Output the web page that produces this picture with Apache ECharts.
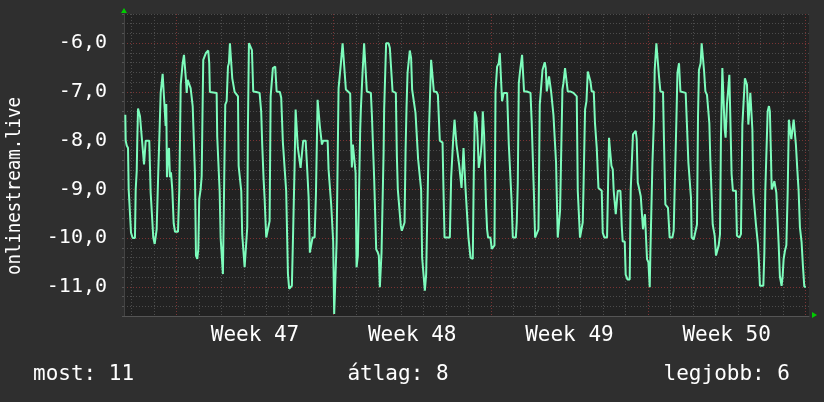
<!DOCTYPE html>
<html><head><meta charset="utf-8">
<script src="https://cdn.jsdelivr.net/npm/echarts@6/dist/echarts.min.js"></script>
<style>html,body{margin:0;padding:0;background:#2f2f2f;}#c{width:824px;height:402px;}</style>
</head><body><div id="c"></div>
<script>
// Hours since the start of the graph window
const hours = [1.4,1.8,2.9,4.3,5.0,6.1,7.5,9.3,11.7,12.5,13.6,14.2,15.0,16.0,17.1,18.2,19.2,20.6,21.4,22.1,23.2,24.9,27.0,28.5,29.6,31.3,32.8,33.9,34.9,36.6,37.7,39.2,40.6,41.3,42.4,43.0,43.8,44.5,45.2,45.9,47.0,48.1,49.1,50.2,51.6,53.1,54.5,57.7,59.1,60.6,61.6,62.7,64.1,65.5,66.2,67.0,68.0,69.4,71.2,72.3,73.4,74.8,75.8,76.9,78.3,79.4,80.4,81.9,83.0,84.1,84.7,86.5,87.6,90.0,91.1,91.8,93.7,99.0,99.6,101.1,102.2,103.3,104.7,105.7,107.1,108.2,109.7,111.1,112.1,113.2,114.6,115.7,117.2,118.2,119.9,121.8,122.5,123.9,125.3,126.3,127.8,128.9,130.3,131.7,132.4,133.5,135.3,136.7,138.1,141.3,144.9,146.6,147.7,149.2,150.3,151.3,152.0,153.8,155.6,156.7,157.7,159.1,161.6,163.1,166.6,168.0,169.8,171.6,173.3,175.2,176.5,179.4,180.8,182.3,183.4,184.8,185.8,187.2,188.7,190.1,191.5,194.1,195.4,197.3,198.6,200.0,201.5,203.7,205.1,206.9,207.9,209.3,210.4,211.5,212.9,217.6,218.6,220.3,221.4,222.5,223.5,224.6,226.4,227.2,228.2,229.3,230.7,231.8,233.6,235.7,237.1,238.9,241.7,242.8,243.5,244.6,246.4,247.5,248.5,249.9,251.3,252.4,253.1,254.9,256.6,258.5,259.5,263.8,264.9,267.3,268.4,269.5,271.3,272.3,273.4,274.5,275.2,276.3,277.4,278.0,279.1,280.1,282.7,284.1,285.5,287.0,290.5,291.6,292.6,294.0,295.8,296.9,298.7,299.8,300.9,301.9,303.0,304.4,305.4,306.8,307.9,309.7,311.5,314.3,316.1,317.5,318.6,320.4,321.5,322.9,323.9,325.7,326.8,328.2,329.3,331.1,334.0,335.4,337.5,340.4,341.4,342.5,348.2,349.6,351.7,353.2,354.6,355.3,357.0,358.1,359.6,360.7,362.1,362.8,363.9,364.9,366.6,368.1,370.3,372.7,373.8,374.9,376.7,377.8,379.1,381.0,382.3,383.4,384.8,385.9,386.9,388.0,389.1,391.6,393.0,395.9,397.0,398.7,400.5,401.6,403.0,404.0,405.8,409.4,411.2,413.0,414.1,415.5,418.7,419.7,420.8,421.9,423.2,424.3,425.4,426.5,427.5,430.4,432.2,434.4,435.7,436.8,437.9,439.3,441.4,442.9,444.3,445.7,447.2,448.2,449.6,450.7,451.8,452.8,454.2,455.3,456.4,457.9,458.9,460.6,461.7,462.8,463.5,464.6,466.0,467.0,468.5,469.6,471.3,473.1,474.2,476.7,480.3,483.8,484.9,486.3,487.3,489.1,490.2,491.0,492.7,494.2,495.6,496.9,498.4,499.8,502.0,503.3,505.2,507.0,508.7,510.5,511.6,513.4,516.2,517.2,518.3,520.1,520.9,522.3,523.3,524.4,525.5,526.5,527.6,530.5,531.9,532.9,535.1,536.1,538.0,540.4,541.5,542.5,543.9,545.7,546.8,547.9,549.0,550.3,552.2,554.0,554.6,555.7,556.7,558.2,558.9,560.4,561.8,562.5,563.9,564.7,566.4,567.1,568.9,570.6,571.7,573.2,576.0,577.0,578.5,581.3,583.1,586.0,587.4,588.8,590.3,591.4,593.1,594.6,596.7,600.2,601.6,603.1,604.5,605.9,606.6,608.8,610.9,612.3,613.4,614.4,616.2,617.3,618.7,619.8,621.3,623.0,623.7,625.5,626.6,627.7,629.1,630.1,631.2,632.6,634.4,635.5,636.9,637.9,639.4,640.8,641.9,642.9,644.3,645.8,646.9,648.3,649.3,650.7,653.9,655.0,657.6,659.3,660.8,662.2,663.5,664.6,665.7,667.2,668.2,669.3,670.4,671.5,672.5,674.2,675.3,676.4,677.4,678.5,679.6,683.2,684.3,685.3,686.7,687.8,689.2,690.2,691.3,692.1,693.5,695.0,696.0,697.1,698.5,699.5,700.9,702.7,703.8,704.9,706.3,707.8,709.2,710.5,712.0,713.1,714.5,715.6,717.0,718.0,719.5,720.9,722.3,724.1,725.5,727.0,728.7];
const values = [-7.47,-8.0,-8.1,-8.15,-9.0,-9.01,-9.89,-10.0,-10.0,-9.0,-8.62,-7.98,-7.34,-7.36,-7.5,-7.51,-7.98,-8.0,-8.49,-8.49,-8.0,-7.97,-8.0,-9.07,-9.07,-9.99,-10.12,-10.12,-9.82,-8.66,-7.98,-7.02,-6.99,-6.63,-6.63,-7.19,-7.2,-7.7,-7.25,-8.75,-8.3,-8.15,-8.75,-8.65,-9.0,-9.7,-9.87,-9.87,-9.0,-6.85,-6.82,-6.41,-6.24,-6.24,-6.75,-7.02,-6.75,-6.75,-6.92,-6.92,-7.29,-7.29,-8.66,-10.36,-10.43,-10.23,-9.2,-9.0,-8.73,-7.16,-6.34,-6.3,-6.2,-6.15,-6.41,-7.0,-7.02,-7.02,-7.91,-7.87,-9.03,-10.0,-10.03,-10.74,-10.74,-7.26,-7.19,-6.48,-6.41,-6.0,-6.0,-6.72,-6.75,-7.0,-7.0,-7.09,-8.52,-8.52,-9.03,-9.92,-9.95,-10.6,-10.6,-9.78,-7.77,-6.0,-6.03,-6.14,-6.99,-7.0,-7.02,-7.4,-8.08,-8.8,-9.2,-9.68,-9.99,-9.99,-9.65,-7.09,-7.06,-6.51,-6.48,-6.99,-7.0,-7.12,-8.04,-8.08,-9.03,-10.74,-11.04,-10.98,-9.82,-8.52,-7.36,-7.36,-8.15,-8.13,-8.56,-8.56,-8.0,-8.0,-8.45,-9.17,-10.3,-10.3,-9.99,-9.99,-9.1,-7.16,-7.19,-7.7,-7.7,-8.08,-8.0,-8.0,-8.59,-8.59,-9.31,-9.31,-10.06,-11.56,-11.56,-10.09,-10.06,-6.92,-6.88,-6.41,-6.0,-6.0,-6.95,-6.99,-7.03,-8.08,-8.55,-8.08,-8.08,-8.66,-10.6,-10.36,-10.36,-7.77,-7.36,-6.61,-6.0,-6.0,-6.99,-7.02,-7.47,-8.76,-8.8,-10.23,-10.3,-10.36,-11.01,-10.98,-10.3,-10.26,-8.25,-7.36,-7.33,-6.0,-6.0,-6.1,-6.14,-6.99,-7.02,-8.32,-9.0,-9.03,-9.75,-9.85,-9.82,-9.68,-8.18,-7.32,-6.61,-6.58,-6.15,-6.3,-6.95,-6.99,-7.43,-8.38,-8.42,-9.0,-10.4,-10.43,-11.08,-10.74,-10.74,-7.91,-7.91,-6.34,-6.34,-6.99,-7.0,-7.06,-8.0,-8.04,-9.0,-9.99,-9.99,-8.76,-8.0,-7.57,-7.57,-8.08,-8.08,-8.49,-8.52,-8.97,-8.97,-8.15,-8.15,-8.97,-9.0,-9.99,-10.4,-10.43,-8.66,-7.4,-7.53,-7.91,-8.56,-8.32,-8.04,-7.4,-7.87,-7.91,-9.34,-9.82,-9.99,-9.99,-10.22,-10.15,-6.99,-6.48,-6.41,-6.2,-6.2,-7.19,-7.02,-7.02,-8.08,-8.12,-9.2,-9.99,-9.99,-9.68,-8.87,-6.82,-6.58,-6.41,-6.24,-6.24,-6.99,-6.99,-6.95,-7.02,-7.64,-7.67,-9.0,-9.99,-9.99,-9.82,-7.26,-7.22,-6.55,-6.51,-6.39,-6.51,-6.99,-6.99,-6.68,-6.68,-6.99,-7.02,-7.47,-7.47,-8.45,-9.41,-9.99,-9.99,-9.44,-9.41,-6.95,-6.82,-6.51,-6.55,-6.99,-6.99,-7.02,-7.09,-9.03,-9.03,-9.99,-9.99,-9.68,-9.0,-7.36,-7.19,-6.58,-6.58,-6.78,-6.99,-6.99,-7.64,-8.15,-8.97,-9.0,-9.03,-9.89,-9.99,-9.99,-9.0,-7.94,-7.94,-8.52,-8.59,-9.03,-9.0,-9.51,-9.51,-9.03,-9.03,-9.75,-10.07,-10.07,-10.75,-10.85,-10.85,-9.0,-8.97,-7.87,-7.87,-7.8,-7.97,-8.86,-8.97,-9.14,-9.14,-9.82,-9.61,-9.51,-9.55,-10.43,-10.5,-11.01,-10.3,-10.26,-8.45,-7.53,-6.55,-6.0,-6.0,-6.68,-6.99,-7.0,-7.97,-9.31,-9.38,-9.99,-9.99,-9.85,-8.73,-7.57,-6.61,-6.41,-6.99,-7.0,-7.02,-7.69,-8.45,-8.49,-9.17,-9.99,-10.03,-9.99,-9.72,-7.5,-6.55,-6.41,-6.0,-6.03,-6.55,-6.99,-7.06,-7.09,-7.64,-8.42,-8.45,-9.72,-9.75,-9.95,-10.36,-10.36,-10.15,-9.92,-7.94,-6.51,-6.53,-7.77,-7.94,-7.26,-7.22,-6.65,-6.68,-8.69,-9.03,-9.03,-9.95,-9.99,-9.92,-7.67,-7.64,-6.72,-6.75,-6.85,-7.67,-7.64,-7.02,-7.02,-7.77,-9.07,-9.07,-9.72,-9.75,-10.12,-10.5,-10.98,-10.98,-10.3,-9.03,-9.0,-7.4,-7.29,-7.4,-8.25,-9.0,-8.93,-8.83,-8.86,-9.07,-9.03,-10.09,-10.79,-10.98,-10.79,-10.43,-10.26,-10.15,-9.07,-7.57,-7.57,-7.97,-7.97,-7.57,-7.6,-8.08,-8.59,-9.03,-9.78,-10.09,-10.57,-11.0,-11.0];
const weekLabels = ['Week 47', 'Week 48', 'Week 49', 'Week 50'];
const weekLabelHours = [140, 308, 476, 644];
const yTitle = 'onlinestream.live';
const legendTexts = ['most: 11', 'átlag: 8', 'legjobb: 6'];

const FONT = 'DejaVu Sans Mono';
const GRID_MINOR = '#4c4c4c';
const GRID_MAJOR = '#7a3434';
const data = hours.map((h, i) => [h, values[i]]);

// x split lines every 4h: days at 8+24k, weeks at 56+168k (cycle of 42 ticks)
const xColors = [];
for (let i = 0; i < 42; i++) {
  xColors.push(i === 14 ? GRID_MAJOR : (i % 6 === 2 ? GRID_MINOR : 'rgba(0,0,0,0)'));
}
// y split lines every 0.2 from -11.6: integer lines at index 3 mod 5
const yColors = [GRID_MINOR, GRID_MINOR, GRID_MINOR, GRID_MAJOR, GRID_MINOR];

const chart = echarts.init(document.getElementById('c'), null, {renderer: 'canvas'});
chart.setOption({
  backgroundColor: '#2f2f2f',
  animation: false,
  grid: {left: 124, top: 14, width: 685, height: 302, show: true, backgroundColor: '#222222', borderWidth: 0},
  xAxis: {
    type: 'value', min: 0, max: 732, interval: 4,
    axisLine: {show: true, lineStyle: {color: '#555555', width: 1}},
    axisTick: {show: false},
    splitLine: {show: true, lineStyle: {color: xColors, type: [1, 2], width: 1}},
    axisLabel: {
      show: true, interval: 0, margin: 9, color: '#ffffff', fontFamily: FONT, fontSize: 21,
      formatter: v => {
        const i = weekLabelHours.findIndex(h => Math.abs(h - v) < 0.01);
        return i >= 0 ? weekLabels[i] : '';
      }
    }
  },
  yAxis: {
    type: 'value', min: -11.6, max: -5.4, interval: 0.2,
    axisLine: {show: true, lineStyle: {color: '#444444', width: 1}},
    axisTick: {show: true, length: 2, lineStyle: {color: '#555555'}},
    splitLine: {show: true, lineStyle: {color: yColors, type: [1, 2], width: 1}},
    axisLabel: {
      show: true, interval: 0, margin: 17, color: '#ffffff', fontFamily: FONT, fontSize: 20,
      formatter: v => Math.abs(v - Math.round(v)) < 1e-6 ? Math.round(v).toFixed(1).replace('.', ',') : ''
    }
  },
  series: [{
    type: 'line', data: data, showSymbol: false, symbol: 'none',
    lineStyle: {color: '#7dfcbc', width: 2}, clip: true
  }],
  graphic: [
    {type: 'text', x: 15, y: 186, rotation: Math.PI / 2, scaleX: 0.87,
     style: {text: yTitle, fill: '#ffffff', font: '20px "' + FONT + '"', align: 'center', verticalAlign: 'middle'}},
    {type: 'text', x: 33, y: 375, style: {text: legendTexts[0], fill: '#ffffff', font: '21px "' + FONT + '"', align: 'left', verticalAlign: 'middle'}},
    {type: 'text', x: 398, y: 375, style: {text: legendTexts[1], fill: '#ffffff', font: '21px "' + FONT + '"', align: 'center', verticalAlign: 'middle'}},
    {type: 'text', x: 790, y: 375, style: {text: legendTexts[2], fill: '#ffffff', font: '21px "' + FONT + '"', align: 'right', verticalAlign: 'middle'}},
    {type: 'polygon', shape: {points: [[121, 13], [127, 13], [124, 8]]}, style: {fill: '#00cc00'}},
    {type: 'polygon', shape: {points: [[812, 312], [812, 318], [817, 315]]}, style: {fill: '#00cc00'}}
  ]
});
</script>
</body></html>
